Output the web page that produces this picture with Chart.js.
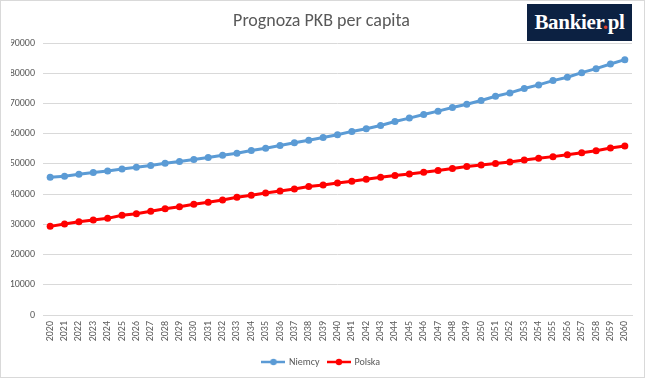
<!DOCTYPE html>
<html>
<head>
<meta charset="utf-8">
<script src="https://cdn.jsdelivr.net/npm/chart.js@4.4.0/dist/chart.umd.min.js"></script>
<style>
  html, body { margin: 0; padding: 0; background: #fff; }
  #wrap { position: relative; width: 643px; height: 376px; border: 1px solid #d9d9d9; background:#fff; }
  #logo { position: absolute; left: 526px; top: 3px; width: 105px; height: 37px; background: #0c2142;
          color: #fff; font-family: "Liberation Serif", "DejaVu Serif", serif; font-weight: bold;
          font-size: 21px; line-height: 37px; text-align: center; letter-spacing: -0.3px; }
  #logo span { color: #e0402a; }
</style>
</head>
<body>
<div id="wrap">
  <canvas id="c" width="643" height="376"></canvas>
  <div id="logo">Bankier<span>.</span>pl</div>
</div>
<script>
const years = ["2020","2021","2022","2023","2024","2025","2026","2027","2028","2029","2030",
  "2031","2032","2033","2034","2035","2036","2037","2038","2039","2040",
  "2041","2042","2043","2044","2045","2046","2047","2048","2049","2050",
  "2051","2052","2053","2054","2055","2056","2057","2058","2059","2060"];
const niemcy = [45600,45900,46600,47140,47700,48360,48900,49470,50240,50800,51460,
  52120,52900,53560,54440,55220,56100,56990,57870,58760,59640,
  60770,61650,62750,64070,65170,66380,67480,68680,69780,70990,
  72420,73520,74950,76160,77590,78680,80220,81540,83080,84510];
const polska = [29340,30110,30880,31440,31990,32990,33540,34310,35200,35860,36640,
  37300,38070,38960,39620,40400,41060,41720,42500,43050,43710,
  44290,44950,45600,46150,46700,47250,47800,48460,49120,49670,
  50110,50660,51320,51870,52420,53080,53740,54400,55280,55940];
const yTicks = [0,10000,20000,30000,40000,50000,60000,70000,80000,90000];

const BLUE = "#5B9BD5", RED = "#FF0000", TXT = "#595959", GRID = "#D9D9D9";
const FONT = "Carlito, Calibri, Lato, 'Open Sans', sans-serif";

function legendIcon(color) {
  const cv = document.createElement("canvas");
  cv.width = 24; cv.height = 8;
  const g = cv.getContext("2d");
  g.strokeStyle = color; g.lineWidth = 2.5;
  g.beginPath(); g.moveTo(0, 4); g.lineTo(24, 4); g.stroke();
  g.fillStyle = color; g.beginPath(); g.arc(12, 4, 3.2, 0, Math.PI * 2); g.fill();
  return cv;
}

new Chart(document.getElementById("c"), {
  type: "line",
  data: {
    labels: years,
    datasets: [
      { label: "Niemcy", data: niemcy, borderColor: BLUE, backgroundColor: BLUE,
        borderWidth: 3, pointRadius: 3.5, pointBorderWidth: 0, pointBackgroundColor: BLUE,
        pointStyle: "circle", tension: 0 },
      { label: "Polska", data: polska, borderColor: RED, backgroundColor: RED,
        borderWidth: 3, pointRadius: 3.5, pointBorderWidth: 0, pointBackgroundColor: RED,
        pointStyle: "circle", tension: 0 }
    ]
  },
  options: {
    responsive: false,
    animation: false,
    layout: { padding: { left: 10, right: 12, top: 0, bottom: 0 } },
    plugins: {
      title: { display: true, text: "Prognoza PKB per capita", color: TXT,
        font: { family: FONT, size: 18, weight: "normal" }, padding: { top: 9.5, bottom: 11 } },
      legend: { position: "bottom",
        labels: { color: TXT, font: { family: FONT, size: 10 }, usePointStyle: true,
          pointStyleWidth: 21, padding: 9,
          generateLabels: (chart) => chart.data.datasets.map((ds, i) => ({
            text: ds.label, fillStyle: ds.borderColor, strokeStyle: ds.borderColor,
            pointStyle: legendIcon(ds.borderColor), datasetIndex: i, hidden: false, lineWidth: 0,
            fontColor: TXT
          })) } },
      tooltip: { enabled: false }
    },
    scales: {
      x: {
        offset: true,
        grid: { display: false, drawTicks: false },
        border: { display: true, color: GRID, width: 1 },
        ticks: { color: TXT, font: { family: FONT, size: 10 }, minRotation: 90, maxRotation: 90,
          autoSkip: false, padding: 6 },
        afterFit: (s) => { s.height = 33; }
      },
      y: {
        min: 0, max: 90000,
        afterBuildTicks: (s) => { s.ticks = yTicks.map(v => ({ value: v })); },
        grid: { color: GRID, lineWidth: 1, drawTicks: false },
        border: { display: false },
        ticks: { color: TXT, font: { family: FONT, size: 10 }, padding: 8,
          callback: (v) => String(v) },
        afterFit: (s) => { s.width = 32; }
      }
    }
  }
});
</script>
</body>
</html>
